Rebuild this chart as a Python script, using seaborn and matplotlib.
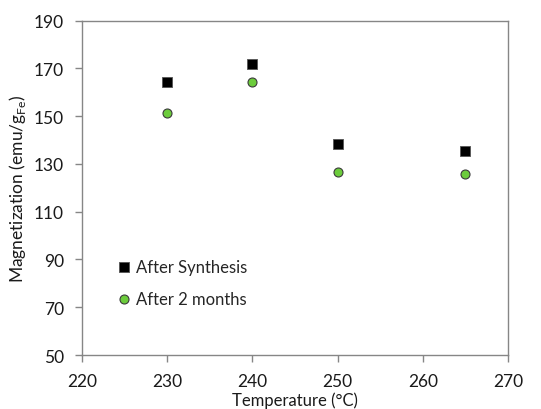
import pandas as pd
import numpy as np
import seaborn as sns
import matplotlib.pyplot as plt

sns.set_theme(style="ticks")
plt.rcParams['font.family'] = ['Lato', 'DejaVu Sans']

# data
temperature = [230, 240, 250, 265]
after_synthesis = [164.2, 171.7, 138.2, 135.4]
after_2_months = [151.3, 164.2, 126.6, 125.9]

gray = '#868686'
green = '#6ccc3c'
text_col = '#1a1a1a'

df = pd.DataFrame({
    'Temperature': temperature * 2,
    'Magnetization': after_synthesis + after_2_months,
    'Series': ['After Synthesis'] * 4 + ['After 2 months'] * 4,
})

fig = plt.figure(figsize=(5.41, 4.10), dpi=100)
ax = fig.add_axes([0.1516, 0.1317, 0.7874, 0.8154])

sns.scatterplot(data=df[df['Series'] == 'After Synthesis'], x='Temperature', y='Magnetization',
                marker='s', color='black', s=42, edgecolor='#555555', linewidth=0.6,
                label='After Synthesis', ax=ax)
sns.scatterplot(data=df[df['Series'] == 'After 2 months'], x='Temperature', y='Magnetization',
                marker='o', color=green, s=42, edgecolor='#3a3a3a', linewidth=0.8,
                label='After 2 months', ax=ax)

ax.set_xlim(220, 270)
ax.set_ylim(50, 190)
ax.set_xticks(np.arange(220, 271, 10))
ax.set_yticks(np.arange(50, 191, 20))
for side in ['left', 'right', 'top', 'bottom']:
    ax.spines[side].set_visible(True)
    ax.spines[side].set_color(gray)
    ax.spines[side].set_linewidth(1.0)
ax.tick_params(axis='both', direction='out', length=5, width=1, color=gray,
               labelsize=12.5, labelcolor=text_col, pad=8)

ax.set_xlabel('Temperature (°C)', fontsize=12, color=text_col, labelpad=1.5)
ax.set_ylabel(r'Magnetization (emu/g$_{\mathregular{Fe}}$)', fontsize=12.5, color=text_col, labelpad=4)

ax.legend(loc='lower left', bbox_to_anchor=(0.04, 0.1), frameon=False, fontsize=12,
          labelspacing=0.95, handletextpad=0.1, handlelength=1.2, markerscale=1.0)

fig.savefig('out.png', dpi=100)
plt.close()
